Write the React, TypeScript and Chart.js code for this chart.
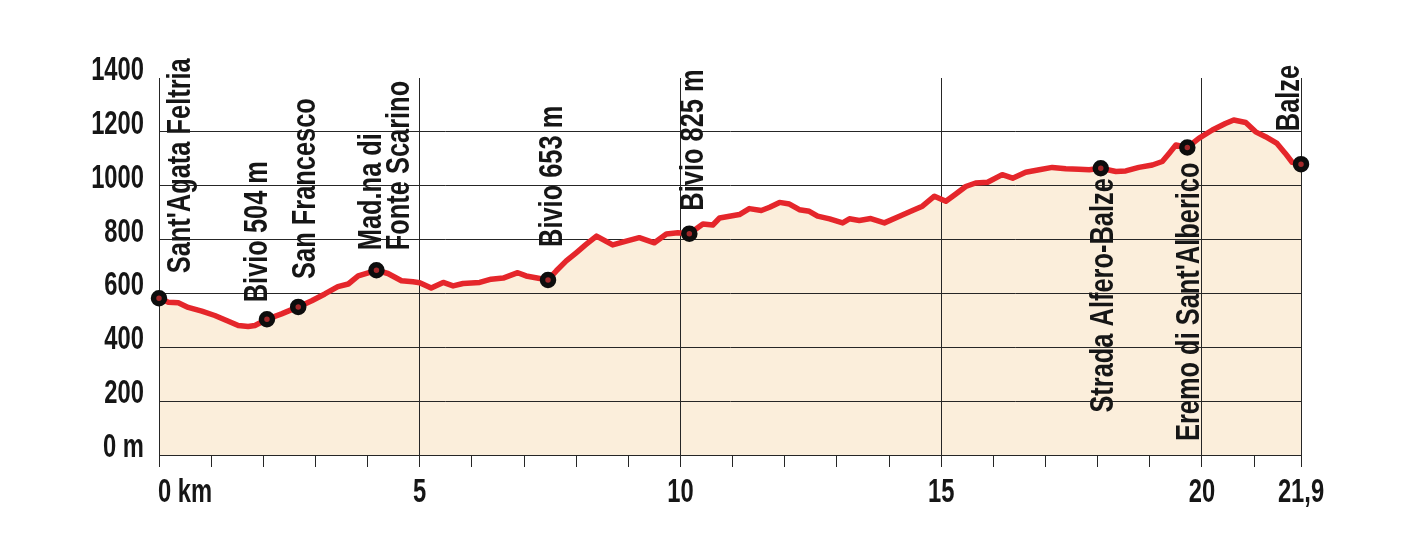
import React, { useEffect, useRef } from 'react';
import { Chart, registerables } from 'chart.js';

Chart.register(...registerables);

// ---- Data ----
const profileKm = [
  0, 0.18, 0.37, 0.56, 0.82, 1.07, 1.33, 1.52, 1.71, 1.84, 2.07, 2.35, 2.67, 2.93, 3.18, 3.43, 3.63, 3.82,
  4.17, 4.39, 4.65, 4.87, 5.0, 5.22, 5.45, 5.64, 5.83, 6.15, 6.37, 6.6, 6.88, 7.04, 7.46, 7.62, 7.81, 8.0,
  8.19, 8.39, 8.7, 8.96, 9.21, 9.5, 9.73, 9.95, 10.17, 10.43, 10.62, 10.75, 11.13, 11.32, 11.55, 11.71,
  11.9, 12.09, 12.28, 12.47, 12.63, 12.86, 13.11, 13.24, 13.43, 13.65, 13.91, 14.2, 14.45, 14.64, 14.87,
  15.09, 15.28, 15.47, 15.66, 15.89, 16.17, 16.37, 16.62, 16.88, 17.13, 17.39, 17.64, 17.84, 18.06, 18.35,
  18.54, 18.79, 19.05, 19.24, 19.37, 19.5, 19.72, 19.94, 20.2, 20.45, 20.61, 20.84, 21.03, 21.22, 21.44,
  21.6, 21.73, 21.9,
];
const profileElev = [
  582, 567, 565, 548, 534, 518, 497, 481, 477, 481, 504, 524, 550, 573, 598, 625, 635, 665,
  686, 674, 647, 643, 640, 620, 641, 628, 637, 641, 653, 657, 677, 665, 650, 684, 721, 751,
  782, 813, 780, 794, 807, 788, 821, 825, 822, 858, 854, 880, 893, 915, 908, 920,
  938, 932, 911, 905, 887, 877, 862, 877, 871, 878, 862, 887, 908, 924, 961,
  942, 969, 997, 1010, 1013, 1041, 1028, 1050, 1059, 1068, 1063, 1061, 1059, 1065, 1053,
  1055, 1068, 1077, 1090, 1120, 1151, 1142, 1176, 1207, 1231, 1244, 1235, 1200, 1182, 1157,
  1120, 1087, 1080,
];

const waypointKm = [0, 2.07, 2.67, 4.17, 7.46, 10.17, 18.06, 19.72, 21.9];
const waypointElev = [582, 504, 550, 686, 650, 822, 1065, 1142, 1080];
const waypointNames = [
  ["Sant'Agata Feltria"],
  ['Bivio 504 m'],
  ['San Francesco'],
  ['Mad.na di', 'Fonte Scarino'],
  ['Bivio 653 m'],
  ['Bivio 825 m'],
  ['Strada Alfero-Balze'],
  ["Eremo di Sant'Alberico"],
  ['Balze'],
];

const yTickValues = [0, 200, 400, 600, 800, 1000, 1200, 1400];
const yTickLabels = ['0 m', '200', '400', '600', '800', '1000', '1200', '1400'];
const xTickValues = [0, 5, 10, 15, 20, 21.9];
const xTickLabels = ['0 km', '5', '10', '15', '20', '21,9'];
const xMinorTicks = [0, 1, 2, 3, 4, 5, 6, 7, 8, 9, 10, 11, 12, 13, 14, 15, 16, 17, 18, 19, 20, 21, 21.9];

// ---- Styles / layout (not data) ----
const FONT_FAMILY = '"Liberation Sans", Arial, sans-serif';
const INK = '#161616';
const GRID = '#262626';
const RED = '#e5262b';
const FILL = '#fbeedb';
const LABEL_FONT = `bold 33px ${FONT_FAMILY}`;
const LABEL_SQUEEZE = 0.77;
const AXIS_FONT = `bold 33px ${FONT_FAMILY}`;
const AXIS_SQUEEZE = 0.72;
const LINE_STEP = 28;
// dx: baseline x offset from marker; gap: distance from marker centre to text end nearest marker
const labelLayout = [
  { side: 'above', dx: 31, gap: 25 },
  { side: 'above', dx: 0, gap: 17 },
  { side: 'above', dx: 17, gap: 28 },
  { side: 'above', dx: 5, gap: 20 },
  { side: 'above', dx: 14, gap: 33 },
  { side: 'above', dx: 14, gap: 23 },
  { side: 'below', dx: 12, gap: 10 },
  { side: 'below', dx: 12, gap: 15 },
  { side: 'above', dx: -2, gap: 33 },
];

function squeezedText(ctx: any, txt: string, x: number, y: number, align: string, squeeze: number, rot = 0) {
  ctx.save();
  ctx.translate(x, y);
  if (rot) ctx.rotate(rot);
  ctx.scale(squeeze, 1);
  ctx.textAlign = align;
  ctx.fillText(txt, 0, 0);
  ctx.restore();
}

const textPlugin = {
  id: 'profileTexts',
  afterDraw(chart: any) {
    const { ctx, scales } = chart;
    const xs = scales.x;
    const ys = scales.y;
    ctx.save();
    ctx.fillStyle = INK;
    ctx.textBaseline = 'alphabetic';

    // waypoint names, rotated
    ctx.font = LABEL_FONT;
    waypointNames.forEach((lines, i) => {
      const lay = labelLayout[i];
      const px = xs.getPixelForValue(waypointKm[i]);
      const py = ys.getPixelForValue(waypointElev[i]);
      lines.forEach((txt, j) => {
        const bx = px + lay.dx + j * LINE_STEP;
        const by = lay.side === 'above' ? py - lay.gap : py + lay.gap;
        squeezedText(ctx, txt, bx, by, lay.side === 'above' ? 'left' : 'right', LABEL_SQUEEZE, -Math.PI / 2);
      });
    });

    // y tick labels
    ctx.font = AXIS_FONT;
    ys.ticks.forEach((t: any) => {
      const idx = yTickValues.indexOf(t.value);
      if (idx < 0) return;
      squeezedText(ctx, yTickLabels[idx], ys.right - 15, ys.getPixelForValue(t.value) + 2, 'right', AXIS_SQUEEZE);
    });

    // x tick labels
    xs.ticks.forEach((t: any) => {
      const idx = xTickValues.indexOf(t.value);
      if (idx < 0) return;
      const px = xs.getPixelForValue(t.value);
      if (idx === 0) squeezedText(ctx, xTickLabels[idx], px - 1, xs.top + 47, 'left', AXIS_SQUEEZE);
      else squeezedText(ctx, xTickLabels[idx], px, xs.top + 47, 'center', AXIS_SQUEEZE);
    });
    ctx.restore();
  },
};

export default function App() {
  const canvasRef = useRef<HTMLCanvasElement | null>(null);

  useEffect(() => {
    if (!canvasRef.current) return;
    const profile = profileKm.map((k, i) => ({ x: k, y: profileElev[i] }));
    const points = waypointKm.map((k, i) => ({ x: k, y: waypointElev[i] }));

    const chart = new Chart(canvasRef.current, {
      type: 'line',
      data: {
        datasets: [
          {
            label: 'Punti',
            data: points,
            showLine: false,
            pointRadius: 5.5,
            pointBorderWidth: 5.5,
            pointBackgroundColor: '#a3282a',
            pointBorderColor: '#0d0d0d',
            fill: false,
            clip: false,
          } as any,
          {
            label: 'Profilo',
            data: profile,
            borderColor: RED,
            borderWidth: 5.5,
            backgroundColor: FILL,
            fill: 'origin',
            pointRadius: 0,
            tension: 0,
            borderJoinStyle: 'round',
            borderCapStyle: 'round',
            clip: false,
          } as any,
        ],
      },
      options: {
        animation: false,
        responsive: true,
        maintainAspectRatio: false,
        layout: { padding: { left: 0, top: 78, right: 109, bottom: 0 } },
        plugins: {
          legend: { display: false },
          tooltip: { enabled: false },
          filler: { drawTime: 'beforeDraw' } as any,
        },
        scales: {
          x: {
            type: 'linear',
            min: 0,
            max: 21.9,
            afterBuildTicks: (scale: any) => {
              scale.ticks = xMinorTicks.map((v) => ({ value: v }));
            },
            afterFit: (scale: any) => {
              scale.height = 80;
            },
            grid: {
              color: (ctx: any) =>
                ctx.tick && xTickValues.includes(ctx.tick.value) ? GRID : 'rgba(0,0,0,0)',
              tickColor: GRID,
              tickLength: 12,
              lineWidth: 1,
              drawTicks: true,
            },
            border: { display: true, color: GRID, width: 1 },
            ticks: { display: false, autoSkip: false },
          },
          y: {
            type: 'linear',
            min: 0,
            max: 1400,
            afterBuildTicks: (scale: any) => {
              scale.ticks = yTickValues.map((v) => ({ value: v }));
            },
            afterFit: (scale: any) => {
              scale.width = 159;
            },
            grid: {
              color: (ctx: any) => (ctx.tick && ctx.tick.value === 1400 ? 'rgba(0,0,0,0)' : GRID),
              lineWidth: 1,
              drawTicks: false,
            },
            border: { display: true, color: GRID, width: 1 },
            ticks: { display: false },
          },
        },
      },
      plugins: [textPlugin],
    });
    return () => chart.destroy();
  }, []);

  return (
    <div style={{ position: 'fixed', left: 0, top: 0, width: 1410, height: 535, background: '#fff' }}>
      <canvas ref={canvasRef} />
    </div>
  );
}
